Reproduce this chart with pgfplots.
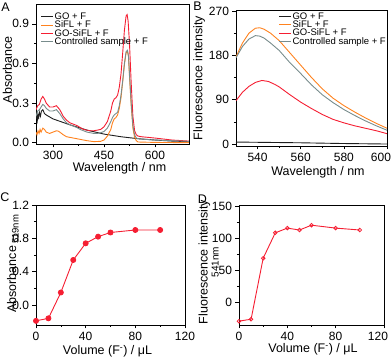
\documentclass[border=0pt]{standalone}
\usepackage{pgfplots}
\pgfplotsset{compat=1.18}
\usepackage{fontspec}
\setmainfont{Liberation Sans}

\definecolor{cblack}{RGB}{30,30,30}
\definecolor{corange}{RGB}{255,130,30}
\definecolor{cred}{RGB}{245,30,50}
\definecolor{cgray}{RGB}{120,140,140}

\pgfplotsset{
  panel/.style={
    scale only axis,
    axis line style={line width=0.7pt},
    tick align=outside,
    xtick pos=bottom, ytick pos=left,
    major tick length=3.5pt, minor tick length=2pt,
    minor tick num=1,
    tick style={line width=0.6pt, black},
    tick label style={font=\fontsize{12}{14}\selectfont},
    label style={font=\fontsize{12.5}{14}\selectfont},
    /pgf/number format/assume math mode=true,
    every axis plot/.append style={line width=0.9pt},
  },
  leg/.style={
    legend style={draw=none, fill=none, inner sep=0pt, row sep=0pt,
      font=\fontsize{9.5}{9.5}\selectfont,
      nodes={inner xsep=1pt, inner ysep=0.6pt, text height=6.3pt, text depth=0.8pt}},
    legend cell align=left,
    legend image code/.code={\draw[##1] (0pt,0pt) -- (12pt,0pt);},
  },
}

\begin{document}
\begin{tikzpicture}
\useasboundingbox (0,0) rectangle (392pt,358pt);

% ---------- A ----------
\begin{axis}[panel, leg,
  at={(36pt,214pt)}, anchor=south west, width=153pt, height=140pt,
  xmin=250, xmax=700, ymin=-0.01, ymax=1.05,
  xtick={300,450,600}, ytick={0,0.3,0.6,0.9},
  yticklabel style={/pgf/number format/.cd, fixed, fixed zerofill, precision=1},
  xlabel={Wavelength / nm}, ylabel={Absorbance},
  xlabel style={at={(axis description cs:0.546,-0.2)}, anchor=base},
  ylabel style={at={(axis description cs:-0.157,0.53)}, anchor=base},
  legend style={at={(axis description cs:0.03,0.94)}, anchor=north west},
]
\addplot[cblack] coordinates {
(250,0.18) (252,0.22) (254,0.17) (256,0.21) (258,0.19) (260,0.23) (263,0.20)
(266,0.24) (270,0.25) (275,0.22) (280,0.21) (300,0.18) (350,0.135) (400,0.095)
(450,0.065) (500,0.045) (550,0.03) (600,0.02) (650,0.012) (700,0.008)};
\addplot[corange] coordinates {
(250,0.08) (253,0.06) (256,0.09) (259,0.07) (262,0.10) (265,0.08) (270,0.11)
(275,0.10) (280,0.08) (290,0.07) (300,0.08) (310,0.09) (315,0.088) (320,0.08)
(330,0.06) (340,0.045) (350,0.04) (360,0.035) (380,0.025) (400,0.015) (420,0.008)
(440,0.01) (450,0.02) (460,0.05) (470,0.10) (475,0.15) (480,0.18) (485,0.19)
(490,0.21) (495,0.26) (500,0.34) (505,0.46) (510,0.59) (515,0.68) (519,0.69)
(522,0.65) (525,0.50) (530,0.28) (535,0.11) (540,0.04) (545,0.015) (550,0.005)
(600,0.002) (700,0.0)};
\addplot[cred] coordinates {
(250,0.25) (255,0.28) (260,0.29) (265,0.33) (270,0.35) (275,0.33) (280,0.30)
(290,0.27) (300,0.27) (310,0.28) (320,0.25) (330,0.20) (340,0.17) (350,0.15)
(360,0.14) (370,0.13) (380,0.115) (390,0.10) (400,0.095) (410,0.09) (420,0.09)
(430,0.095) (440,0.10) (450,0.12) (460,0.16) (470,0.24) (475,0.30) (480,0.33)
(485,0.34) (490,0.36) (495,0.42) (500,0.52) (505,0.68) (510,0.85) (515,0.96)
(518,0.97) (521,0.92) (525,0.75) (530,0.45) (535,0.20) (540,0.09) (545,0.06)
(550,0.05) (560,0.045) (580,0.04) (600,0.035) (650,0.02) (700,0.012)};
\addplot[cgray] coordinates {
(250,0.20) (255,0.24) (260,0.25) (265,0.27) (270,0.29) (275,0.28) (280,0.26)
(290,0.24) (300,0.24) (310,0.25) (320,0.22) (330,0.18) (340,0.15) (350,0.135)
(360,0.125) (370,0.115) (380,0.10) (390,0.09) (400,0.08) (410,0.075) (420,0.07)
(430,0.07) (440,0.075) (450,0.085) (460,0.11) (470,0.16) (475,0.19) (480,0.21)
(485,0.22) (490,0.23) (495,0.28) (500,0.36) (505,0.47) (510,0.60) (515,0.69)
(519,0.70) (522,0.66) (525,0.52) (530,0.30) (535,0.13) (540,0.06) (545,0.035)
(550,0.03) (570,0.025) (600,0.02) (650,0.015) (700,0.01)};
\legend{GO + F, SiFL + F, GO-SiFL + F, Controlled sample + F}
\end{axis}

% ---------- B ----------
\begin{axis}[panel, leg,
  at={(236pt,212pt)}, anchor=south west, width=151pt, height=136pt,
  xmin=530, xmax=600, ymin=-4, ymax=272,
  xtick={540,560,580}, ytick={0,90,180,270},
  extra x ticks={600},
  extra x tick style={xticklabel style={xshift=-6pt}},
  xlabel={Wavelength / nm}, ylabel={Fluorescence intensity},
  xlabel style={at={(axis description cs:0.543,-0.22)}, anchor=base},
  ylabel style={at={(axis description cs:-0.222,0.5)}, anchor=base},
  legend style={at={(axis description cs:1.0,0.985)}, anchor=north east},
]
\addplot[cblack] coordinates {
(530,4) (540,3.5) (560,2.5) (580,1) (600,0)};
\addplot[corange] coordinates {
(530,177) (533,205) (536,225) (539,235) (541,236) (543,233) (546,225) (550,210)
(555,185) (560,160) (565,135) (570,112) (575,93) (580,78) (585,65) (590,53)
(595,42) (600,32)};
\addplot[cred] coordinates {
(530,88) (533,105) (536,117) (539,125) (542,129) (545,127) (548,121) (550,116)
(555,100) (560,85) (565,72) (570,60) (575,50) (580,43) (585,37) (590,32)
(595,27) (600,21)};
\addplot[cgray] coordinates {
(530,175) (533,198) (536,213) (539,220) (541,219) (543,215) (546,205) (550,190)
(555,165) (560,143) (565,120) (570,100) (575,84) (580,70) (585,58) (590,47)
(595,37) (600,28)};
\legend{GO + F, SiFL + F, GO-SiFL + F, Controlled sample + F}
\end{axis}

% ---------- C ----------
\begin{axis}[panel,
  at={(36pt,33pt)}, anchor=south west, width=149pt, height=120pt,
  xmin=0, xmax=120, ymin=-0.24, ymax=1.2,
  xtick={0,40,80,120}, ytick={0,0.4,0.8,1.2},
  yticklabel style={/pgf/number format/.cd, fixed, fixed zerofill, precision=1},
  xlabel={Volume (F\textsuperscript{-}) / μL},
  ylabel={Absorbance\,\raisebox{-2.5pt}{\fontsize{9.5}{9.5}\selectfont 519nm}},
  xlabel style={at={(axis description cs:0.48,-0.25)}, anchor=base},
  ylabel style={at={(axis description cs:-0.134,0.51)}, anchor=base},
]
\addplot[cred, mark=*, mark size=2.5pt, mark options={fill=cred}] coordinates {
(0,-0.19) (10,-0.16) (20,0.15) (30,0.54) (40,0.74) (50,0.82) (60,0.87)
(80,0.90) (100,0.90)};
\end{axis}

% ---------- D ----------
\begin{axis}[panel,
  at={(239pt,33pt)}, anchor=south west, width=145pt, height=120pt,
  xmin=0, xmax=120, ymin=-35, ymax=152,
  xtick={0,40,80}, ytick={0,50,100,150},
  extra x ticks={120},
  extra x tick style={xticklabel style={xshift=-6pt}},
  xlabel={Volume (F\textsuperscript{-}) / μL},
  ylabel={Fluorescence intensity\\[-3pt]{\fontsize{10}{10}\selectfont 541nm}},
  xlabel style={at={(axis description cs:0.51,-0.23)}, anchor=base},
  ylabel style={at={(axis description cs:-0.21,0.525)}, anchor=center, align=center},
]
\addplot[cred, mark=o, mark size=1.8pt, mark options={fill=white, line width=0.8pt}] coordinates {
(0,-29) (10,-26) (20,69) (30,108.6) (40,116) (50,113) (60,120.5)
(80,116) (100,113)};
\end{axis}

% panel letters
\node[inner sep=0pt, font=\fontsize{12.5}{12.5}\selectfont] at (5.5pt,350.5pt) {A};
\node[inner sep=0pt, font=\fontsize{12.5}{12.5}\selectfont] at (197.5pt,352pt) {B};
\node[inner sep=0pt, font=\fontsize{12.5}{12.5}\selectfont] at (5pt,160.5pt) {C};
\node[inner sep=0pt, font=\fontsize{12.5}{12.5}\selectfont] at (202.5pt,159pt) {D};
\end{tikzpicture}
\end{document}
